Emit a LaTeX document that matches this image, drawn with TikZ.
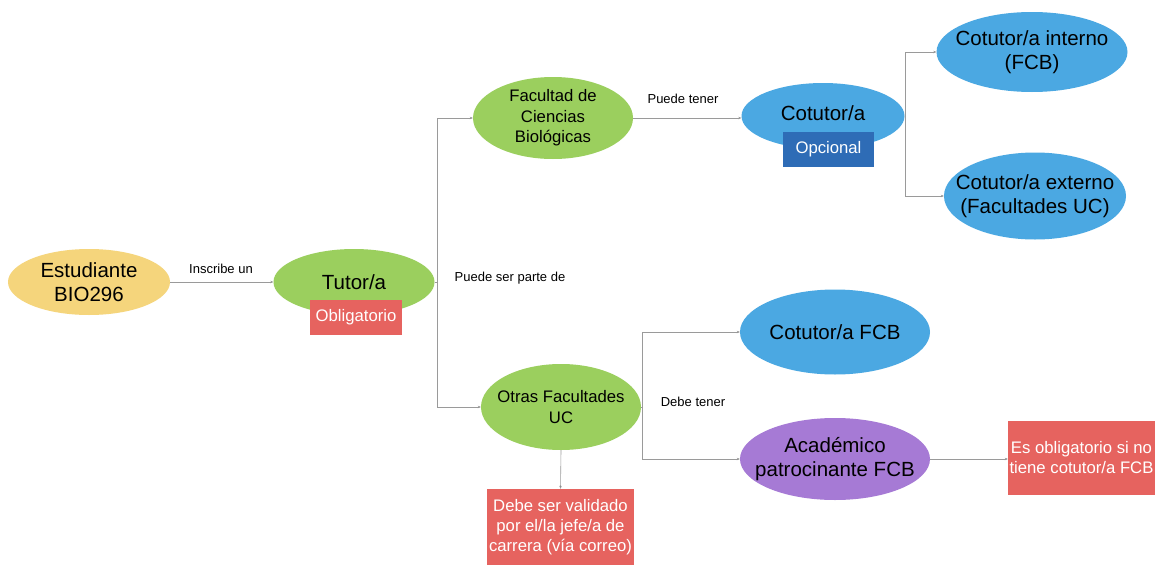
\documentclass[tikz,border=0pt]{standalone}
\usepackage{fontspec}
\setmainfont{Liberation Sans}
\usetikzlibrary{shapes.geometric,arrows.meta}
\definecolor{cyel}{HTML}{F5D57C}
\definecolor{cgreen}{HTML}{9BCF5E}
\definecolor{cblue}{HTML}{4BA8E2}
\definecolor{cdblue}{HTML}{2E6CB6}
\definecolor{cred}{HTML}{E6635F}
\definecolor{cpurple}{HTML}{A67AD5}
\definecolor{cline}{HTML}{9A9A9A}
\tikzset{
  ell/.style={ellipse, inner sep=0pt},
  txt/.style={inner sep=0pt, align=center, text=black},
  big/.style={font=\fontsize{20.5}{24}\selectfont},
  mid/.style={font=\fontsize{16.7}{20.5}\selectfont},
  tag/.style={rectangle, inner sep=0pt, align=center, text=white, font=\fontsize{16.7}{20}\selectfont},
  conn/.style={draw=cline, line width=0.6pt, -{Stealth[length=3pt,width=2.5pt,fill=black!70]}},
  lbl/.style={font=\fontsize{13}{15}\selectfont, text=black}
}
\begin{document}
\begin{tikzpicture}[x=1pt,y=-1pt]
\useasboundingbox[fill=white] (0,0) rectangle (1157,565);
% shapes
\node[ell, fill=cyel, minimum width=162, minimum height=66] (est) at (89,282) {};
\node[ell, fill=cgreen, minimum width=161, minimum height=66] (tut) at (354,282) {};
\node[ell, fill=cgreen, minimum width=160, minimum height=82] (fac) at (553,118) {};
\node[ell, fill=cgreen, minimum width=160, minimum height=86] (otr) at (561,407) {};
\node[ell, fill=cblue, minimum width=163, minimum height=66] (cot) at (823,116) {};
\node[ell, fill=cblue, minimum width=191, minimum height=80] (cin) at (1032,52) {};
\node[ell, fill=cblue, minimum width=182, minimum height=87] (cex) at (1035,196) {};
\node[ell, fill=cblue, minimum width=190, minimum height=85] (cfcb) at (835,332) {};
\node[ell, fill=cpurple, minimum width=190, minimum height=82] (aca) at (835,459) {};
% texts
\node[txt, big] (estT) at (est) {Estudiante\\BIO296};
\node[txt, big] (tutT) at (354,282) {Tutor/a};
\node[txt, mid] (facT) at (fac) {Facultad de\\Ciencias\\Biológicas};
\node[txt, mid] (otrT) at (otr) {Otras Facultades\\UC};
\node[txt, big] (cotT) at (823,113) {Cotutor/a};
\node[txt, big] (cinT) at (cin) {Cotutor/a interno\\(FCB)};
\node[txt, big] (cexT) at (cex) {Cotutor/a externo\\(Facultades UC)};
\node[txt, big] (cfcbT) at (cfcb) {Cotutor/a FCB};
\node[txt, big] (acaT) at (aca) {Académico\\patrocinante FCB};
% tags
\node[tag, fill=cred, minimum width=92, minimum height=35] (obl) at (356,317) {Obligatorio};
\node[tag, fill=cdblue, minimum width=91, minimum height=35] (opc) at (828.5,149.5) {Opcional};
\node[tag, fill=cred, minimum width=147, minimum height=74] (esob) at (1081.5,458) {Es obligatorio si no\\tiene cotutor/a FCB};
\node[tag, fill=cred, minimum width=147, minimum height=76] (val) at (560.5,527) {Debe ser validado\\por el/la jefe/a de\\carrera (vía correo)};
% connectors
\draw[conn] (est.east) -- (tut.west);
\draw[conn] (tut.east) -- ++(3,0) |- (fac.west);
\draw[conn] (tut.east) -- ++(3,0) |- (otr.west);
\draw[conn] (fac.east) -- (fac.east -| cot.west);
\draw[conn] (cot.east) -- ++(1,0) |- (cin.west);
\draw[conn] (cot.east) -- ++(1,0) |- (cex.west);
\draw[conn] (otr.east) -- ++(1,0) |- (cfcb.west);
\draw[conn] (otr.east) -- ++(1,0) |- (aca.west);
\draw[conn] (aca.east) -- (aca.east -| esob.west);
\draw[conn] (otr.south) -- (val.north);
% labels
\node[lbl] (l1) at (221,269) {Inscribe un};
\node[lbl] (l2) at (510,278) {Puede ser parte de};
\node[lbl] (l3) at (683,99) {Puede tener};
\node[lbl] (l4) at (693,402) {Debe tener};
\end{tikzpicture}
\end{document}
